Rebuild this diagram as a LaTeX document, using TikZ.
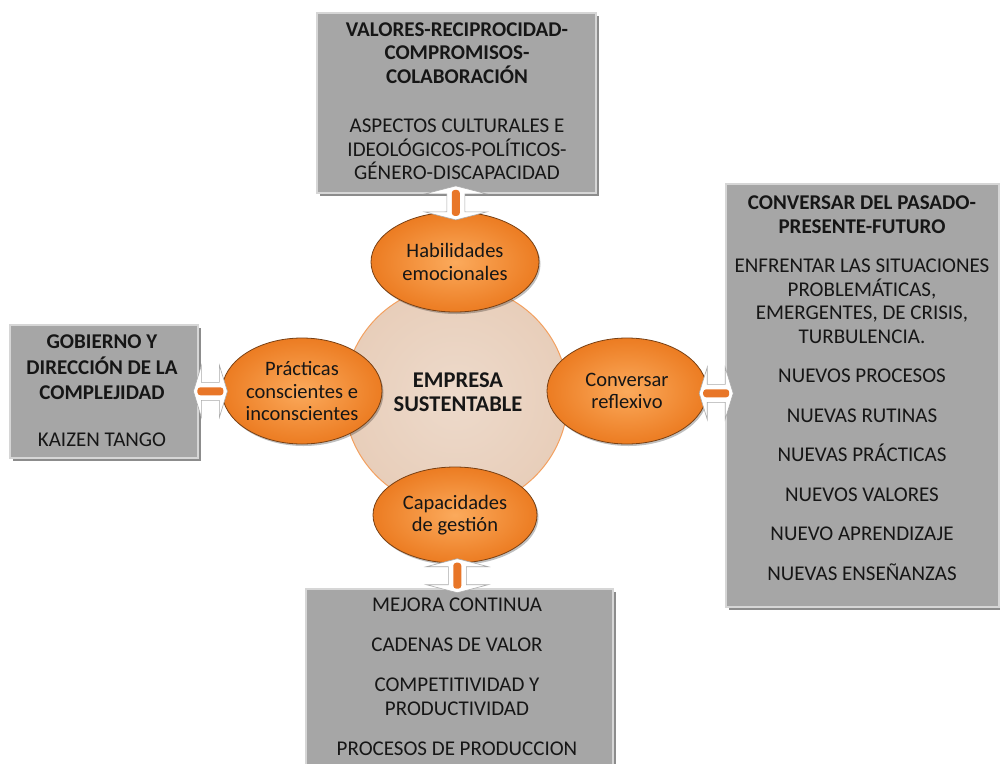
\documentclass[tikz,border=0pt]{standalone}
\usepackage{fontspec}
\setmainfont{Carlito}
\usetikzlibrary{calc,shadows,shapes.geometric}

\definecolor{boxgray}{RGB}{166,166,166}
\definecolor{boxedge}{RGB}{214,214,214}
\definecolor{ringfill}{RGB}{232,206,186}
\definecolor{ringin}{RGB}{237,218,203}
\definecolor{ringedge}{RGB}{243,160,95}
\definecolor{ovalin}{RGB}{251,170,92}
\definecolor{ovalout}{RGB}{236,124,34}
\definecolor{ovaledge}{RGB}{120,64,20}
\definecolor{barorange}{RGB}{232,118,40}
\definecolor{arrowedge}{RGB}{170,170,170}
\definecolor{ink}{RGB}{22,22,22}

\tikzset{
  panel/.style={draw=boxedge, line width=2.2pt, fill=boxgray, anchor=north west,
    inner sep=0pt,
    drop shadow={shadow xshift=2.5pt, shadow yshift=-2.5pt, fill=black, opacity=0.45}},
  paneltext/.style={align=center, text=ink, inner sep=0pt,
    font=\fontsize{21}{23.5}\selectfont},
  oval/.style={ellipse, draw=ovaledge, line width=0.8pt, inner sep=0pt,
    inner color=ovalin, outer color=ovalout, align=center, text=ink,
    font=\fontsize{20.5}{22.5}\selectfont,
    drop shadow={shadow xshift=1.5pt, shadow yshift=-2pt, fill=black, opacity=0.25}},
  ring/.style={circle, draw=ringedge, line width=1pt, inner sep=0pt,
    inner color=ringin, outer color=ringfill},
  pics/twoway/.style={code={
    \filldraw[fill=white, draw=arrowedge, line width=0.6pt]
      (-17,0) -- (-9,-#1) -- (-9,-9) -- (9,-9) -- (9,-#1) -- (17,0)
      -- (9,#1) -- (9,9) -- (-9,9) -- (-9,#1) -- cycle;
    \fill[barorange, rounded corners=3pt] (-13,-4) rectangle (13,4);
  }}
}

\begin{document}
\begin{tikzpicture}[x=1pt, y=-1pt]
\clip (0,0) rectangle (1000,763);
\fill[white] (0,0) rectangle (1000,763);

% outer panels
\node[panel, minimum width=279pt, minimum height=180pt] (topbox) at (316,12) {};
\node[panel, minimum width=188pt, minimum height=133pt] (leftbox) at (9,324) {};
\node[panel, minimum width=273pt, minimum height=423pt] (rightbox) at (725,183) {};
\node[panel, minimum width=307pt, minimum height=220pt] (botbox) at (305,588) {};

\node[paneltext] (toptxt) at (457,101)
  {\textbf{VALORES-RECIPROCIDAD-}\\\textbf{COMPROMISOS-}\\\textbf{COLABORACIÓN}\\[26pt]
   ASPECTOS CULTURALES E\\IDEOLÓGICOS-POLÍTICOS-\\GÉNERO-DISCAPACIDAD};
\node[paneltext] (lefttxt) at (102,391)
  {\textbf{GOBIERNO Y}\\[2pt]\textbf{DIRECCIÓN DE LA}\\[2pt]\textbf{COMPLEJIDAD}\\[23.5pt]
   KAIZEN TANGO};
\node[paneltext] (righttxt) at (862,388)
  {\textbf{CONVERSAR DEL PASADO-}\\\textbf{PRESENTE-FUTURO}\\[16pt]
   ENFRENTAR LAS SITUACIONES\\PROBLEMÁTICAS,\\EMERGENTES, DE CRISIS,\\TURBULENCIA.\\[16pt]
   NUEVOS PROCESOS\\[16pt]NUEVAS RUTINAS\\[16pt]NUEVAS PRÁCTICAS\\[16pt]
   NUEVOS VALORES\\[16pt]NUEVO APRENDIZAJE\\[16pt]NUEVAS ENSEÑANZAS};
\node[paneltext] (bottxt) at (457,676.5)
  {MEJORA CONTINUA\\[16.5pt]CADENAS DE VALOR\\[16.5pt]COMPETITIVIDAD Y\\PRODUCTIVIDAD\\[16.5pt]
   PROCESOS DE PRODUCCION};

% central circle
\node[ring, minimum size=224pt] (core) at (456,397) {};
\node[align=center, text=ink, inner sep=0pt, font=\bfseries\fontsize{22.5}{23.5}\selectfont]
  (coretxt) at (458,392) {EMPRESA\\SUSTENTABLE};

% surrounding ovals
\node[oval, minimum width=168pt, minimum height=100pt] (hab) at (455,262) {Habilidades\\emocionales};
\node[oval, minimum width=160pt, minimum height=106pt] (prac) at (302,391) {Prácticas\\conscientes e\\inconscientes};
\node[oval, minimum width=160pt, minimum height=106pt] (conv) at (627,391) {Conversar\\reflexivo};
\node[oval, minimum width=164pt, minimum height=96pt] (cap) at (455,515) {Capacidades\\de gestión};

% two-way block arrows between panels and ovals
\pic[rotate=90] at ($(topbox.south)!0.5!(hab.north)$) {twoway=31};
\pic at ($(leftbox.east)!0.5!(prac.west)$) {twoway=26};
\pic at ($(conv.east)!0.5!(rightbox.west)$) {twoway=26};
\pic[rotate=90] at ($(cap.south)!0.5!(botbox.north)$) {twoway=31};
\end{tikzpicture}
\end{document}
